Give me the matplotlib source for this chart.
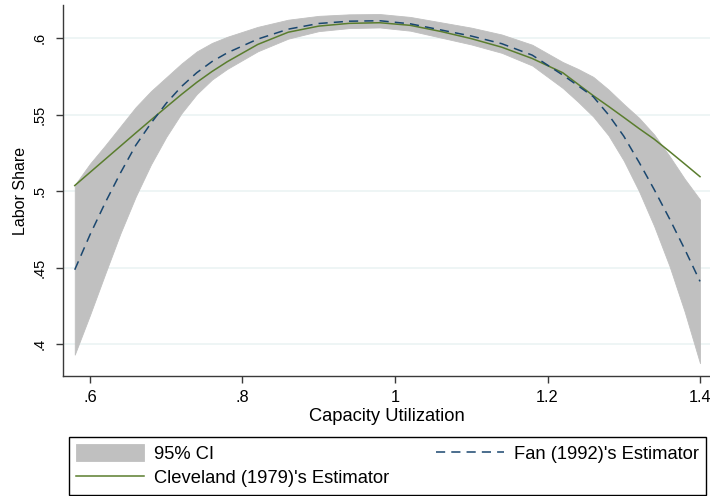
import matplotlib
matplotlib.use("Agg")
import matplotlib.pyplot as plt

plt.rcParams['font.family'] = ['Liberation Sans', 'DejaVu Sans']

# ---- data ----
capacity = [0.58, 0.60, 0.62, 0.64, 0.66, 0.68, 0.70, 0.72, 0.74, 0.76, 0.78,
            0.82, 0.86, 0.90, 0.94, 0.98, 1.02, 1.06, 1.10, 1.14, 1.18, 1.22,
            1.24, 1.26, 1.28, 1.30, 1.32, 1.34, 1.36, 1.38, 1.40]
fan_est = [0.4486, 0.4715, 0.4925, 0.512, 0.530, 0.5445, 0.5575, 0.5685, 0.5775,
           0.5848, 0.5905, 0.5995, 0.606, 0.6097, 0.6112, 0.6115, 0.6095, 0.6055,
           0.6015, 0.5965, 0.589, 0.576, 0.569, 0.5618, 0.550, 0.536, 0.519,
           0.501, 0.482, 0.462, 0.441]
cleveland_est = [0.5037, 0.5123, 0.5209, 0.5295, 0.5381, 0.5466, 0.555, 0.5633,
                 0.5712, 0.5783, 0.5847, 0.596, 0.604, 0.608, 0.6098, 0.6102,
                 0.6085, 0.6045, 0.5998, 0.5942, 0.5868, 0.5775, 0.570, 0.5625,
                 0.5555, 0.5483, 0.541, 0.534, 0.526, 0.5178, 0.5095]
ci_upper = [0.5041, 0.518, 0.530, 0.5425, 0.555, 0.5655, 0.5745, 0.5835, 0.5914,
            0.597, 0.601, 0.6075, 0.6122, 0.6147, 0.6157, 0.6159, 0.614, 0.6105,
            0.607, 0.6025, 0.5958, 0.5845, 0.580, 0.5748, 0.5665, 0.557, 0.548,
            0.537, 0.523, 0.508, 0.4945]
ci_lower = [0.3931, 0.419, 0.446, 0.4725, 0.4965, 0.5175, 0.5355, 0.551, 0.5635,
            0.573, 0.580, 0.5915, 0.5998, 0.6047, 0.6067, 0.6071, 0.605, 0.6005,
            0.596, 0.5905, 0.5822, 0.5675, 0.5585, 0.5488, 0.5365, 0.520, 0.500,
            0.477, 0.451, 0.421, 0.3875]

x_ticks = [0.6, 0.8, 1.0, 1.2, 1.4]
x_ticklabels = ['.6', '.8', '1', '1.2', '1.4']
y_ticks = [0.4, 0.45, 0.5, 0.55, 0.6]
y_ticklabels = ['.4', '.45', '.5', '.55', '.6']

W, H = 710, 496
fig = plt.figure(figsize=(W / 100, H / 100), dpi=100)
ax = fig.add_axes([63 / W, 1 - 376 / H, (W - 63) / W, (376 - 5) / H])

ci = ax.fill_between(capacity, ci_lower, ci_upper, color='#c0c0c0', lw=0.6,
                     edgecolor='#c0c0c0', label='95% CI', zorder=2)
cl, = ax.plot(capacity, cleveland_est, color='#5a7d2e', lw=1.1,
              label="Cleveland (1979)'s Estimator", zorder=3)
fl, = ax.plot(capacity, fan_est, color='#1a476f', lw=1.1, dashes=(6, 4),
              label="Fan (1992)'s Estimator", zorder=4)

ax.set_xlim(0.5646, 1.4131)
ax.set_ylim(0.3791, 0.6218)
ax.set_xticks(x_ticks)
ax.set_xticklabels(x_ticklabels, fontsize=11.8)
ax.set_yticks(y_ticks)
ax.set_yticklabels(y_ticklabels, fontsize=10.5, rotation=90, va='center')

ax.yaxis.grid(True, color='#eaf2f3', lw=1.1)
ax.set_axisbelow(True)
for s in ['top', 'right']:
    ax.spines[s].set_visible(False)
for s in ['left', 'bottom']:
    ax.spines[s].set_color('#3a3a3a')
    ax.spines[s].set_linewidth(1.0)
ax.tick_params(axis='both', length=5, width=1.0, color='#3a3a3a')
ax.tick_params(axis='x', pad=5)
ax.tick_params(axis='y', pad=7)

ax.set_xlabel('Capacity Utilization', fontsize=13.2, labelpad=2)
ax.set_ylabel('Labor Share', fontsize=11.5, labelpad=3)

leg = fig.legend([ci, cl, fl], ['95% CI', "Cleveland (1979)'s Estimator", "Fan (1992)'s Estimator"],
                 ncol=2, mode='expand', loc='upper left',
                 bbox_to_anchor=(69 / W, 0, 637 / W, 1 - 437 / H),
                 bbox_transform=fig.transFigure, frameon=True, fancybox=False,
                 edgecolor='black', framealpha=1, fontsize=13.2,
                 handlelength=3.7, handleheight=1.05, handletextpad=0.55,
                 labelspacing=0.3, borderpad=0.4, borderaxespad=0)
leg.get_frame().set_linewidth(1.0)

fig.savefig('out.png', dpi=100)
